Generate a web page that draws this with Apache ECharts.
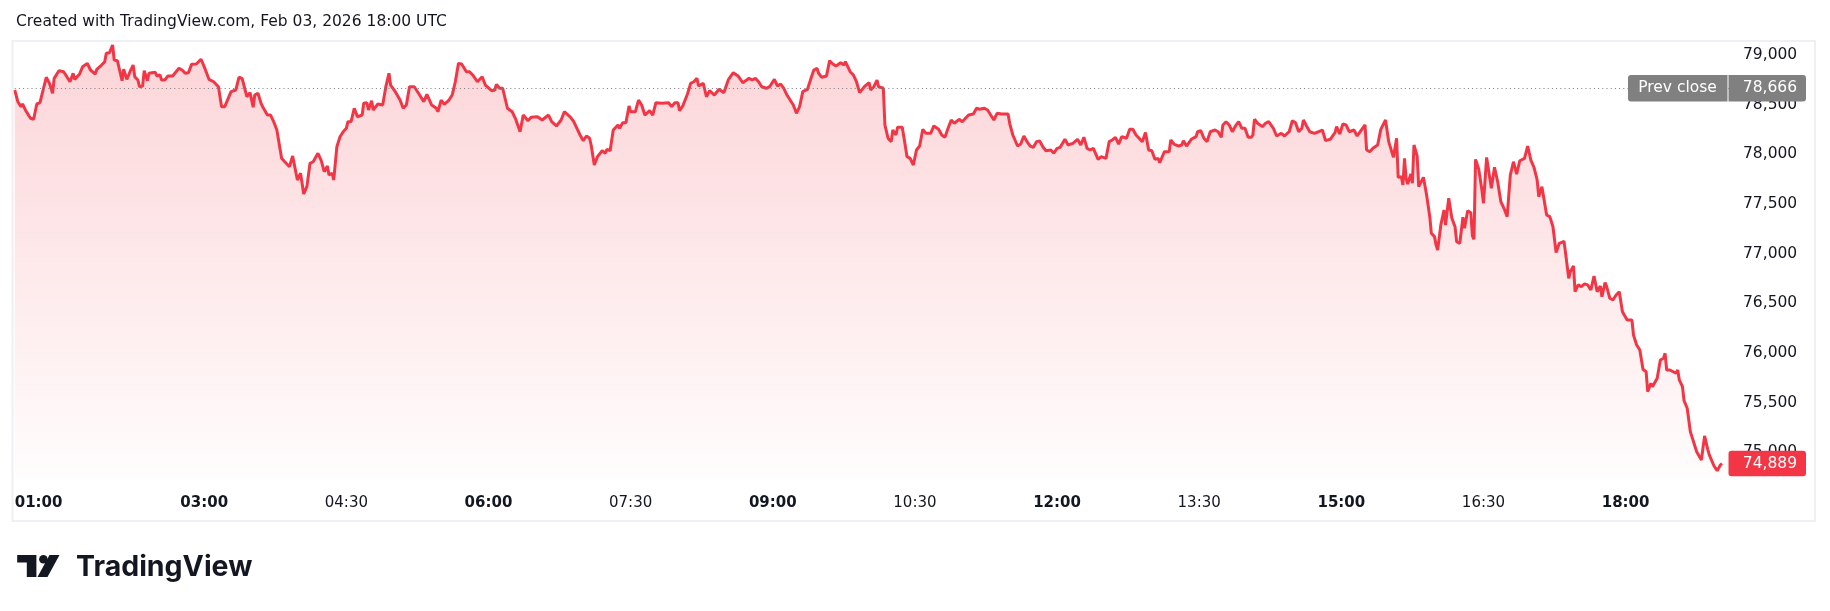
<!DOCTYPE html>
<html>
<head>
<meta charset="utf-8">
<script src="https://cdn.jsdelivr.net/npm/echarts@6/dist/echarts.min.js"></script>
<style>
html,body{margin:0;padding:0;background:#ffffff;}
#chart{width:1830px;height:611px;}
</style>
</head>
<body>
<div id="chart"></div>
<script>
// Time in minutes since 00:00 UTC
const times = [
60,62,64,65,67,70,71,72,74,76,78,80,82,84,85,88,91,93,95,97,98,101,103,106,108,111,112,115,117,118,120,122,123,125,128,129,131,133,135,136,138,139,141,142,144,145,149,150,152,153,155,157,160,164,166,168,170,172,175,178,180,182,183,186,189,191,193,194,197,200,202,204,207,209,211,212,214,216,217,220,222,224,226,229,231,234,236,237,239,241,243,245,247,249,252,254,256,258,259,261,262,264,266,268,270,271,273,275,277,280,281,283,284,286,287,290,293,295,297,298,301,302,304,306,308,310,313,316,319,321,324,327,328,330,332,335,337,339,341,343,346,348,350,353,356,358,359,362,364,365,367,369,372,375,377,380,
382,385,387,391,394,398,400,403,406,408,412,414,416,418,420,422,424,425,427,429,432,434,435,437,439,442,443,445,447,449,450,453,455,457,459,462,464,466,470,474,476,478,480,481,483,486,488,490,492,493,496,498,500,503,506,509,512,515,518,521,525,527,529,531,533,536,538,541,543,545,547,549,551,553,555,557,559,562,564,566,568,569,571,574,576,578,580,583,585,586,589,591,593,595,598,601,602,604,606,607,610,611,613,615,616,618,619,622,624,625,627,629,631,633,635,637,640,642,645,647,649,651,653,655,658,660,662,664,667,669,671,674,676,678,680,682,685,689,690,692,695,697,699,701,703,705,707,709,
711,713,716,718,720,722,725,727,730,733,735,737,739,741,743,746,748,751,753,755,757,759,761,764,766,768,770,774,776,778,780,782,784,785,788,791,792,794,797,799,800,802,805,808,809,811,813,815,817,820,822,824,825,827,829,831,833,835,837,839,841,843,844,845,847,850,852,854,857,859,862,864,867,869,871,873,875,876,878,880,883,888,890,893,896,897,899,901,903,905,908,910,913,915,916,918,920,923,925,926,928,929,930,933,935,936,938,939,940,941,942,944,945,946,948,949,952,954,956,957,959,960,961,963,965,966,968,970,972,973,975,977,978,980,982,983,984,985,987,989,990,992,995,997,999,1001,1003,1005,1006,1007,1009,1011,1013,1016,1018,1020,1022,1024,1025,1027,1030,1032,1034,1036,1038,
1041,1042,1044,1045,1047,1048,1050,1052,1054,1056,1058,1060,1062,1064,1065,1067,1068,1070,1072,1074,1076,1078,1081,1084,1085,1087,1089,1091,1093,1094,1096,1097,1100,1102,1104,1105,1106,1108,1112,1113,1114,1116,1117,1119,1121,1122,1124,1125,1128,1129,1130,1132,1133,1134,1136,1138,1139,1140,1141
];
// Price values (USD)
const values = [
78648,78530,78480,78507,78440,78363,78373,78353,78507,78520,78648,78776,78715,78615,78765,78842,78832,78782,78731,78816,78755,78806,78882,78916,78849,78809,78856,78899,78933,79017,79023,79101,78950,78943,78741,78856,78755,78832,78899,78782,78748,78681,78688,78842,78741,78816,78826,78789,78799,78748,78748,78789,78789,78866,78849,78816,78822,78906,78909,78957,78882,78799,78755,78731,78681,78480,78480,78464,78631,78648,78776,78765,78580,78621,78474,78597,78615,78514,78480,78396,78396,78329,78245,77960,77926,77876,77984,77977,77742,77810,77601,77675,77910,77926,78011,77943,77826,77883,77792,77810,77742,78077,78178,78228,78262,78329,78329,78464,78379,78396,78514,78520,78447,78540,78447,78507,78497,78681,78816,78698,78631,78648,78547,78464,78497,78681,78681,78608,78530,78604,78497,78464,78429,78547,78504,78547,78597,78731,78916,78909,78832,78832,78799,78731,78782,78698,78715,78641,78648,78705,78665,78665,78464,78429,78363,78228,
78396,78339,78373,78379,78346,78396,78329,78286,78346,78429,78373,78329,78262,78195,78138,78185,78162,78094,77893,77977,78037,78011,78051,78037,78245,78296,78262,78319,78319,78487,78429,78429,78547,78497,78396,78440,78396,78520,78514,78520,78480,78520,78520,78440,78487,78608,78715,78731,78765,78688,78715,78580,78641,78597,78655,78621,78755,78822,78789,78722,78765,78748,78765,78731,78681,78665,78681,78755,78688,78708,78665,78597,78547,78497,78413,78480,78631,78655,78755,78849,78866,78816,78776,78789,78943,78909,78889,78923,78899,78933,78832,78799,78731,78621,78681,78722,78648,78681,78748,78681,78665,78296,78162,78128,78245,78195,78272,78272,78077,77977,77960,77893,78044,78084,78252,78212,78212,78286,78252,78195,78172,78262,78346,78313,78353,78329,78363,78396,78406,78464,78454,78464,78447,78396,78346,78413,78406,78406,78313,78195,78084,78104,78185,78128,78084,78071,78128,78135,
78077,78037,78044,78011,78061,78071,78152,78094,78111,78152,78094,78172,78061,78044,78061,77950,77977,77960,78128,78145,78172,78104,78178,78162,78252,78252,78195,78128,78219,78044,78037,77950,77960,77916,78027,78027,78145,78104,78084,78094,78138,78084,78152,78178,78228,78239,78162,78128,78228,78245,78228,78172,78296,78329,78296,78228,78286,78329,78262,78262,78172,78172,78195,78353,78313,78279,78313,78329,78262,78185,78212,78185,78228,78339,78319,78228,78262,78346,78286,78228,78212,78245,78138,78152,78219,78279,78205,78306,78296,78228,78245,78185,78252,78296,78044,78027,78061,78094,78252,78262,78346,78329,78128,77970,78162,77769,77776,77692,77960,77759,77702,77802,77709,78094,77984,77675,77769,77591,77373,77206,77172,77088,77038,77289,77440,77289,77558,77357,77272,77121,77105,77367,77256,77433,77413,77179,77145,77950,77850,77641,77508,77970,77658,77870,77725,77524,77457,77373,77373,77792,77926,77802,77936,77960,78084,77943,77870,77742,77574,77675,77390,77373,77272,77011,77105,
77125,77004,76753,76820,76877,76618,76686,76669,76696,76686,76635,76776,76618,76676,76568,76709,76669,76552,76535,76585,76618,76417,76333,76333,76182,76082,76031,75837,75813,75612,75696,75662,75747,75931,75948,75998,75830,75830,75797,75830,75730,75662,75521,75445,75209,75159,75058,75008,74924,74924,75166,75032,74975,74975,74864,74817,74797,74874,74889
];
const prevClose = 78666;
const yTicks = [75000, 75500, 76000, 76500, 77000, 77500, 78000, 78500, 79000];
const xTicks = [60, 180, 270, 360, 450, 540, 630, 720, 810, 900, 990, 1080];
const xTickLabels = ['01:00','03:00','04:30','06:00','07:30','09:00','10:30','12:00','13:30','15:00','16:30','18:00'];
const titleText = 'Created with TradingView.com, Feb 03, 2026 18:00 UTC';

const FONT = 'DejaVu Sans';
const TXT = '#131722';
const RED = '#f23645';
const fmt = v => Math.round(v).toLocaleString('en-US');

const chart = echarts.init(document.getElementById('chart'), null, {renderer: 'canvas'});
const option = {
  animation: false,
  backgroundColor: '#ffffff',
  grid: {left: 14.7, right: 97, top: 41, bottom: 133, containLabel: false},
  xAxis: {
    type: 'value', min: 60, max: 1148,
    axisLine: {show: false}, axisTick: {show: false}, splitLine: {show: false},
    axisLabel: {
      customValues: xTicks,
      alignMinLabel: 'left',
      margin: 18,
      formatter: function (v) {
        const i = xTicks.indexOf(v);
        const s = xTickLabels[i];
        return (v % 60 === 0) ? '{b|' + s + '}' : '{r|' + s + '}';
      },
      rich: {
        b: {fontFamily: FONT, fontSize: 15, fontWeight: 'bold', color: TXT},
        r: {fontFamily: FONT, fontSize: 15, color: TXT}
      }
    }
  },
  yAxis: {
    type: 'value', position: 'right', min: 74743, max: 79141, scale: true,
    axisLine: {show: false}, axisTick: {show: false}, splitLine: {show: false},
    axisLabel: {
      customValues: yTicks, margin: 10, formatter: fmt,
      fontFamily: FONT, fontSize: 15.5, color: TXT
    }
  },
  series: [{
    type: 'line',
    data: times.map((t, i) => [t, values[i]]),
    showSymbol: false,
    silent: true,
    lineStyle: {color: RED, width: 3},
    areaStyle: {
      origin: 'start',
      color: new echarts.graphic.LinearGradient(0, 0, 0, 1, [
        {offset: 0, color: 'rgba(242,54,69,0.30)'},
        {offset: 1, color: 'rgba(242,54,69,0.02)'}
      ])
    },
    markLine: {
      silent: true, symbol: 'none', animation: false,
      label: {show: false},
      lineStyle: {color: '#787b86', type: [1, 3.2], width: 1},
      data: [{yAxis: prevClose}]
    }
  }]
};
chart.setOption(option);

const yPrev = chart.convertToPixel({yAxisIndex: 0}, prevClose);
const lastVal = values[values.length - 1];
const yLast = chart.convertToPixel({yAxisIndex: 0}, lastVal);

chart.setOption({
  graphic: [
    {type: 'rect', z: 50, silent: true, shape: {x: 12.5, y: 41, width: 1802.5, height: 480},
      style: {fill: 'none', stroke: '#eef0f3', lineWidth: 2}},
    {type: 'text', z: 100, left: 16, top: 14,
      style: {text: titleText, font: '15.5px "DejaVu Sans"', fill: TXT}},
    // prev close tag
    {type: 'rect', z: 100, shape: {x: 1628, y: yPrev - 13.3, width: 99.5, height: 26.7, r: [3, 0, 0, 3]},
      style: {fill: '#808080'}},
    {type: 'rect', z: 100, shape: {x: 1728.5, y: yPrev - 13.3, width: 77.5, height: 26.7, r: [0, 3, 3, 0]},
      style: {fill: '#808080'}},
    {type: 'text', z: 101, x: 1677.5, y: yPrev,
      style: {text: 'Prev close', font: '15.5px "DejaVu Sans"', fill: '#ffffff', align: 'center', verticalAlign: 'middle'}},
    {type: 'text', z: 101, x: 1797, y: yPrev,
      style: {text: fmt(prevClose), font: '15.5px "DejaVu Sans"', fill: '#ffffff', align: 'right', verticalAlign: 'middle'}},
    // last price tag
    {type: 'rect', z: 100, shape: {x: 1728.5, y: yLast - 12.8, width: 77.5, height: 25.6, r: 3},
      style: {fill: RED}},
    {type: 'text', z: 101, x: 1797, y: yLast,
      style: {text: fmt(lastVal), font: '15.5px "DejaVu Sans"', fill: '#ffffff', align: 'right', verticalAlign: 'middle'}},
    // TradingView logo
    {type: 'polygon', z: 100, shape: {points: [[17.2, 555], [36.4, 555], [36.4, 577], [26.8, 577], [26.8, 562.5], [17.2, 562.5]]},
      style: {fill: TXT}},
    {type: 'circle', z: 100, shape: {cx: 43.4, cy: 559.2, r: 4.3}, style: {fill: TXT}},
    {type: 'polygon', z: 100, shape: {points: [[49.5, 555], [59.5, 555], [47.5, 577], [37.5, 577]]},
      style: {fill: TXT}},
    {type: 'text', z: 100, x: 76, y: 567, style: {text: 'TradingView', font: 'bold 28.5px Inter', fill: TXT, verticalAlign: 'middle'}}
  ]
});
</script>
</body>
</html>
